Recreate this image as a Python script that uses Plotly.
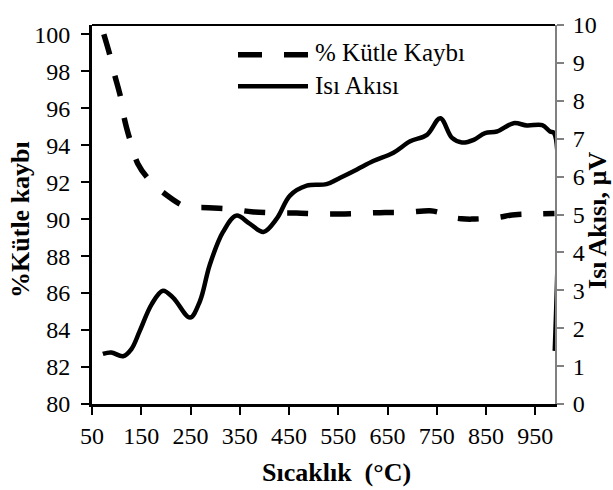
import plotly.graph_objects as go

# % mass loss (left axis)
temp_mass = [74, 86, 96, 108, 116, 127, 143, 167, 204, 238, 286, 330, 374, 418, 465, 510,
             554, 601, 645, 689, 736, 757, 777, 800, 821, 869, 909, 957, 989]
mass_loss = [100.0, 98.9, 97.8, 96.6, 95.4, 94.3, 93.0, 92.1, 91.25, 90.7, 90.62, 90.55, 90.4,
             90.34, 90.33, 90.28, 90.28, 90.32, 90.36, 90.37, 90.45, 90.35, 90.12, 90.02, 90.0,
             90.08, 90.24, 90.28, 90.3]

# heat flow (right axis)
temp_heat = [72, 89, 113, 130, 147, 171, 194, 215, 249, 269, 289, 316, 343, 370, 398, 425, 452,
             486, 526, 554, 588, 621, 662, 696, 730, 757, 781, 801, 825, 848, 872, 906, 933, 964,
             980, 988, 989.5]
heat_flow = [1.32, 1.36, 1.26, 1.45, 1.93, 2.63, 2.99, 2.80, 2.28, 2.71, 3.67, 4.54, 4.97, 4.76,
             4.54, 4.89, 5.50, 5.76, 5.80, 5.97, 6.19, 6.41, 6.63, 6.93, 7.10, 7.54, 7.02, 6.90,
             6.97, 7.15, 7.19, 7.41, 7.35, 7.36, 7.19, 7.15, 1.4]

x_ticks = [50, 150, 250, 350, 450, 550, 650, 750, 850, 950]
series_names = ["% Kütle Kaybı", "Isı Akısı"]

FONT = "Liberation Serif"
W, H = 613, 490
ML, MR, MT, MB = 92, 58, 21, 86
PW, PH = W - ML - MR, H - MT - MB

def px_x(p):
    return (p - ML) / PW

def px_y(p):
    return (H - MB - p) / PH

fig = go.Figure()
fig.add_trace(go.Scatter(x=temp_mass, y=mass_loss, mode="lines", name=series_names[0],
                         line=dict(color="black", width=5.5, dash="21px,22px", shape="spline",
                                   smoothing=0.9),
                         yaxis="y", showlegend=False))
fig.add_trace(go.Scatter(x=temp_heat, y=heat_flow, mode="lines", name=series_names[1],
                         line=dict(color="black", width=4.5, shape="spline", smoothing=1.0),
                         yaxis="y2", showlegend=False))

fig.update_layout(
    width=W, height=H,
    margin=dict(l=ML, r=MR, t=MT, b=MB),
    paper_bgcolor="white", plot_bgcolor="white",
    font=dict(family=FONT, size=24, color="black"),
    xaxis=dict(range=[50, 990], tickvals=x_ticks, showgrid=False, zeroline=False,
               showline=True, linecolor="black", linewidth=3,
               ticks="outside", ticklen=8, tickwidth=2, tickcolor="black",
               tickfont=dict(family=FONT, size=24)),
    yaxis=dict(range=[80, 100.5], dtick=2, tick0=80, showgrid=False, zeroline=False,
               showline=True, linecolor="black", linewidth=3,
               ticks="outside", ticklen=8, tickwidth=2, tickcolor="black",
               ticklabelstandoff=6,
               tickfont=dict(family=FONT, size=24)),
    yaxis2=dict(range=[0, 10], dtick=1, tick0=0, overlaying="y", side="right",
                showgrid=False, zeroline=False, showline=True, linecolor="#808080",
                linewidth=2, ticks="outside", ticklen=7, tickwidth=1.5,
                ticklabelstandoff=4,
                tickcolor="#808080", tickfont=dict(family=FONT, size=24)),
    showlegend=False,
)

# top frame line
fig.add_shape(type="line", xref="paper", yref="paper", x0=0, x1=1, y0=1, y1=1,
              line=dict(color="black", width=2))

# axis titles
fig.add_annotation(text="<b>Sıcaklık  (°C)</b>", xref="paper", yref="paper",
                   x=px_x(336), y=px_y(473), showarrow=False,
                   font=dict(family=FONT, size=26),
                   xanchor="center", yanchor="middle")
fig.add_annotation(text="<b>%Kütle kaybı</b>", xref="paper", yref="paper",
                   x=px_x(21), y=px_y(218), showarrow=False,
                   font=dict(family=FONT, size=26),
                   textangle=-90, xanchor="center", yanchor="middle")
fig.add_annotation(text="<b>Isı Akısı, µV</b>", xref="paper", yref="paper",
                   x=px_x(598), y=px_y(219), showarrow=False,
                   font=dict(family=FONT, size=26),
                   textangle=-90, xanchor="center", yanchor="middle")

# manual legend
fig.add_shape(type="line", xref="paper", yref="paper", x0=px_x(238), x1=px_x(308),
              y0=px_y(51), y1=px_y(51), line=dict(color="black", width=5.5, dash="24px,22px"))
fig.add_shape(type="line", xref="paper", yref="paper", x0=px_x(238), x1=px_x(308),
              y0=px_y(83), y1=px_y(83), line=dict(color="black", width=4.5))
fig.add_annotation(text=series_names[0], xref="paper", yref="paper", x=px_x(313), y=px_y(49),
                   showarrow=False, xanchor="left", yanchor="middle",
                   font=dict(family=FONT, size=25))
fig.add_annotation(text=series_names[1], xref="paper", yref="paper", x=px_x(313), y=px_y(82),
                   showarrow=False, xanchor="left", yanchor="middle",
                   font=dict(family=FONT, size=25))

fig.write_html("out.html")
